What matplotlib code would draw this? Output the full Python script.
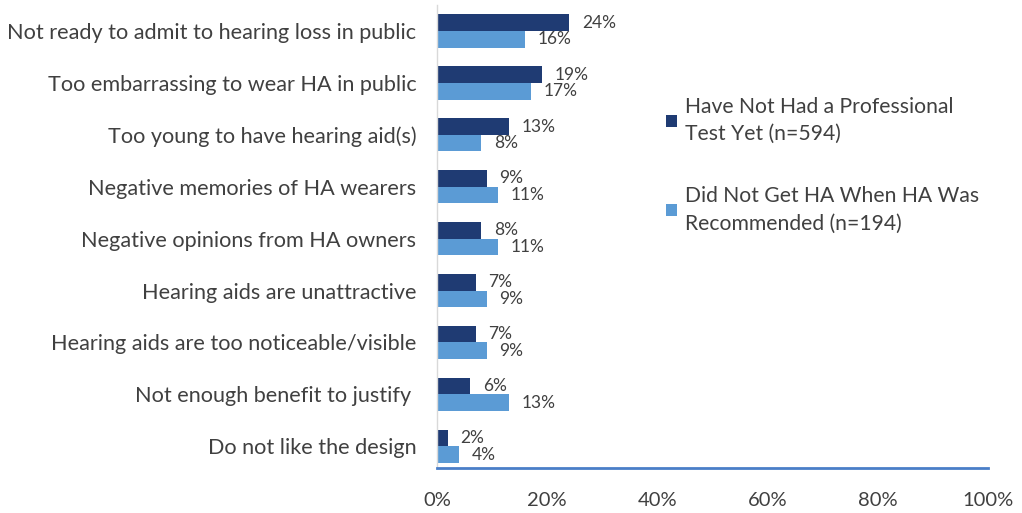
import numpy as np
import matplotlib.pyplot as plt

reasons = [
    "Not ready to admit to hearing loss in public",
    "Too embarrassing to wear HA in public",
    "Too young to have hearing aid(s)",
    "Negative memories of HA wearers",
    "Negative opinions from HA owners",
    "Hearing aids are unattractive",
    "Hearing aids are too noticeable/visible",
    "Not enough benefit to justify ",
    "Do not like the design",
]
not_tested = [24, 19, 13, 9, 8, 7, 7, 6, 2]
no_ha = [16, 17, 8, 11, 11, 9, 9, 13, 4]
series_names = [
    "Have Not Had a Professional\nTest Yet (n=594)",
    "Did Not Get HA When HA Was\nRecommended (n=194)",
]
xticks = [0, 20, 40, 60, 80, 100]

dark = "#1f3b73"
light = "#5b9bd5"
text_col = "#404040"

plt.rcParams['font.family'] = ['Lato', 'DejaVu Sans']

fig = plt.figure(figsize=(10.22, 5.13), dpi=100)
ax = fig.add_axes([0.4276, 0.0877, 0.539, 0.9023])

y = np.arange(len(reasons))
h = 0.32
b1 = ax.barh(y - h / 2, not_tested, height=h, color=dark, label=series_names[0])
b2 = ax.barh(y + h / 2, no_ha, height=h, color=light, label=series_names[1])

for bars, vals in ((b1, not_tested), (b2, no_ha)):
    for bar, v in zip(bars, vals):
        ax.text(v + 2.3, bar.get_y() + bar.get_height() / 2, f"{v}%",
                va="center", ha="left", fontsize=12.5, color=text_col)

ax.set_ylim(len(reasons) - 0.58, -0.5)
ax.set_xlim(0, 100)
ax.set_yticks(y)
ax.set_yticklabels(reasons, fontsize=15.6, color=text_col)
ax.set_xticks(xticks)
ax.set_xticklabels([f"{t}%" for t in xticks], fontsize=14.5, color=text_col)
ax.tick_params(axis="y", length=0, pad=15)
ax.tick_params(axis="x", length=0, pad=17)

for s in ("top", "right"):
    ax.spines[s].set_visible(False)
ax.spines["left"].set_color("#d9d9d9")
ax.spines["left"].set_linewidth(1)
ax.spines["bottom"].set_color("#4a7ec8")
ax.spines["bottom"].set_linewidth(2)

leg = ax.legend(loc="upper left", bbox_to_anchor=(0.382, 0.843), frameon=False,
                fontsize=15.2, handlelength=0.5, handleheight=0.5,
                handletextpad=0.4, labelspacing=2.0, labelcolor=text_col)
for t in leg.get_texts():
    t.set_linespacing(1.45)

fig.savefig("out.png", dpi=100)
